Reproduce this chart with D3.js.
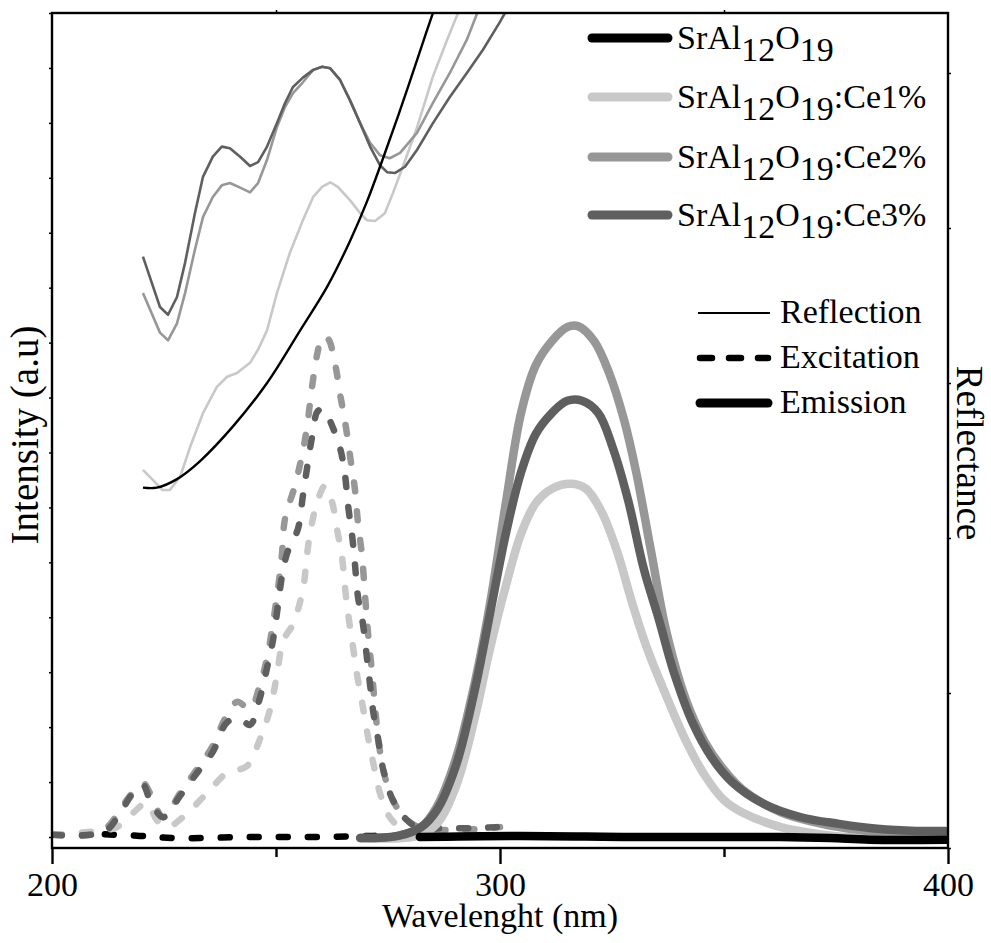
<!DOCTYPE html>
<html>
<head>
<meta charset="utf-8">
<script src="https://cdn.jsdelivr.net/npm/d3@7"></script>
<style>
  html, body { margin: 0; padding: 0; background: #fff; }
  svg { display: block; }
  text { font-family: "Liberation Serif", "Times New Roman", serif; fill: #000; }
</style>
</head>
<body>
<svg id="chart" width="991" height="943"></svg>
<script>
// ---- sample names and colours ----
const samples = ["SrAl12O19", "SrAl12O19:Ce1%", "SrAl12O19:Ce2%", "SrAl12O19:Ce3%"];
const sampleColors = ["#000000", "#c8c8c8", "#979797", "#5f5f5f"];

// ---- axis ticks ----
const wavelengthMajorTicks = [200, 300, 400];
const wavelengthMinorTicks = [250, 350];
const intensityTicks = d3.range(0, 16);
const reflectanceTicks = [0, 20, 40, 60, 80, 100];

// ---- reflection spectra [wavelength nm, reflectance %] ----
const reflHost = [[220.3,46.5],[223.4,46.5],[227.9,47.6],[233.0,49.9],[240.4,54.4],[248.0,60.0],[255.4,66.8],[261.4,72.4],[266.5,78.3],[270.3,83.4],[273.9,89.0],[277.7,95.2],[281.5,101.7],[285.0,107.7],[288.8,113.9]];
const reflCe1 = [[220.3,48.8],[222.5,47.5],[224.6,46.2],[226.3,46.2],[228.6,47.9],[230.8,51.7],[233.7,56.1],[236.8,59.5],[239.1,60.8],[241.3,61.3],[244.2,62.6],[246.0,64.3],[248.0,66.8],[250.2,71.6],[253.1,76.8],[256.0,81.0],[258.3,84.0],[260.3,85.3],[262.1,85.9],[263.8,85.3],[266.5,83.6],[268.8,81.9],[270.3,81.0],[272.1,80.9],[274.3,81.9],[276.1,84.5],[278.3,87.9],[281.5,93.0],[285.0,99.5],[288.2,104.3],[290.6,107.7],[292.6,110.7]];
const reflCe2 = [[220.3,71.6],[224.1,66.5],[225.9,65.5],[227.9,67.7],[229.7,71.6],[231.9,77.2],[233.7,81.4],[235.9,84.0],[237.9,85.5],[239.7,85.8],[242.0,85.2],[244.2,84.6],[246.0,85.8],[248.0,88.8],[250.2,93.0],[252.0,95.6],[253.8,97.4],[256.0,98.8],[258.3,100.4],[260.3,100.8],[262.1,100.6],[264.3,99.1],[266.5,96.5],[268.8,93.5],[271.0,91.0],[273.2,89.4],[275.4,89.0],[277.7,89.7],[281.5,92.3],[285.0,96.1],[288.8,100.0],[292.6,104.3],[294.9,107.7],[297.3,110.7]];
const reflCe3 = [[220.3,76.3],[224.1,69.8],[225.9,68.8],[227.9,71.1],[229.7,75.5],[231.9,81.9],[233.7,86.6],[235.9,89.2],[237.9,90.5],[239.7,90.3],[242.0,89.2],[244.2,88.0],[246.0,88.5],[248.0,90.5],[250.2,93.5],[252.0,96.1],[253.8,98.2],[256.0,99.4],[258.3,100.4],[260.3,100.8],[262.1,100.6],[264.3,99.1],[266.5,96.5],[268.8,93.5],[271.0,90.5],[273.2,88.1],[274.8,87.2],[276.6,87.1],[278.8,87.9],[281.5,90.1],[285.0,93.5],[288.8,96.9],[292.6,100.0],[296.2,103.0],[300.0,106.6],[303.3,110.0]];

// ---- excitation spectra [wavelength nm, intensity a.u.] ----
const excHost = [[211.8,0.05],[219.6,0.02],[227.5,-0.02],[244.2,0.0],[260.0,0.0],[271.0,0.02],[282.0,0.02]];
const excCe1 = [[200.2,0.04],[212.3,0.13],[214.5,0.18],[218.1,0.44],[221.2,0.62],[223.4,0.31],[225.7,0.18],[229.2,0.36],[234.6,0.80],[239.1,1.17],[243.5,1.29],[246.4,1.78],[248.7,2.33],[250.2,2.95],[251.6,3.57],[253.8,3.88],[256.0,4.50],[256.9,5.12],[257.6,5.53],[259.2,6.10],[260.9,6.39],[262.5,6.10],[263.6,5.61],[264.7,5.12],[265.4,4.55],[266.1,4.06],[267.0,3.57],[268.1,2.95],[269.2,2.46],[270.5,1.84],[271.7,1.35],[273.2,0.80],[275.4,0.36],[277.7,0.18],[281.5,0.09]];
const excCe2 = [[200.2,0.04],[208.5,0.04],[212.3,0.18],[215.2,0.49],[217.4,0.75],[220.3,0.98],[221.9,0.80],[224.8,0.36],[228.6,0.80],[232.4,1.24],[235.9,1.66],[238.6,2.15],[241.3,2.46],[244.2,2.33],[246.4,2.77],[248.0,3.26],[249.3,3.88],[250.4,4.50],[251.3,5.12],[252.0,5.79],[254.2,6.39],[255.8,6.95],[256.9,7.45],[258.0,8.17],[259.2,8.79],[260.3,9.10],[261.6,9.07],[263.2,8.61],[264.3,8.06],[265.4,7.57],[266.5,6.95],[267.6,6.34],[268.3,5.72],[269.2,5.12],[269.9,4.37],[270.5,3.75],[271.4,3.02],[272.5,2.04],[273.9,1.24],[276.1,0.67],[279.2,0.31],[282.8,0.16],[290.4,0.13],[297.8,0.16],[300.0,0.18]];
const excCe3 = [[200.2,0.04],[208.5,0.04],[212.3,0.13],[215.2,0.44],[218.1,0.80],[220.3,0.95],[221.9,0.67],[224.8,0.36],[228.6,0.75],[232.4,1.17],[235.9,1.55],[239.1,2.09],[242.0,2.15],[244.2,2.04],[246.4,2.53],[248.0,3.08],[249.3,3.57],[250.4,4.19],[251.3,4.73],[252.5,5.17],[254.9,5.61],[256.0,6.21],[256.9,6.70],[258.0,7.26],[259.4,7.76],[260.9,7.77],[262.1,7.57],[264.3,7.08],[265.4,6.59],[266.1,6.03],[267.0,5.48],[267.6,4.99],[268.3,4.37],[269.4,3.88],[270.3,3.26],[271.0,2.77],[271.7,2.28],[272.8,1.78],[273.9,1.24],[276.1,0.67],[279.2,0.31],[282.8,0.13],[286.6,0.16],[294.0,0.16],[299.3,0.18]];

// ---- emission spectra [wavelength nm, intensity a.u.] ----
const emiHost = [[282.1,0.0],[304.5,0.02],[331.3,0.0],[362.5,0.0],[373.7,-0.02],[382.6,-0.05],[399.5,-0.05]];
const emiCe1 = [[268.8,-0.02],[281.5,0.02],[285.9,0.24],[290.2,0.93],[294.4,2.18],[297.8,3.44],[301.3,4.57],[304.7,5.52],[308.0,6.08],[311.6,6.34],[315.9,6.43],[319.2,6.34],[322.5,5.95],[326.1,5.21],[329.5,4.26],[332.8,3.44],[337.1,2.57],[341.5,1.75],[345.8,1.11],[350.0,0.67],[354.2,0.44],[362.7,0.18],[371.4,0.05],[379.9,-0.02],[399.5,-0.04]];
const emiCe2 = [[268.8,-0.02],[277.2,0.02],[282.4,0.18],[285.9,0.55],[290.2,1.44],[294.4,2.82],[297.8,4.26],[301.3,6.08],[304.7,7.72],[308.0,8.59],[311.6,9.03],[315.0,9.28],[317.4,9.30],[321.0,9.03],[324.3,8.46],[327.7,7.59],[330.4,6.64],[333.7,5.21],[337.1,3.75],[341.5,2.50],[345.8,1.72],[350.0,1.22],[354.2,0.86],[362.7,0.45],[371.4,0.25],[379.9,0.13],[388.4,0.07],[399.5,0.04]];
const emiCe3 = [[268.8,-0.02],[277.2,0.02],[282.4,0.18],[285.9,0.49],[290.2,1.31],[294.4,2.69],[297.8,4.08],[301.3,5.52],[304.7,6.64],[308.0,7.34],[311.6,7.72],[315.0,7.94],[318.3,7.94],[321.9,7.72],[325.2,7.08],[328.6,6.13],[332.1,4.88],[335.5,3.95],[338.8,3.00],[343.1,2.06],[347.3,1.44],[351.8,1.00],[358.5,0.62],[367.2,0.36],[375.7,0.24],[384.2,0.15],[392.9,0.11],[399.5,0.11]];

const reflection = [reflCe1, reflCe2, reflCe3, reflHost];
const excitation = [excHost, excCe1, excCe2, excCe3];
const emission = [emiCe1, emiCe2, emiCe3, emiHost];

// ---- layout ----
const svg = d3.select("#chart");
const plot = { left: 52, right: 948, top: 13, bottom: 848 };

const x = d3.scaleLinear().domain([200, 400]).range([plot.left, plot.right]);
const yI = d3.scaleLinear().domain([-0.2, 15]).range([plot.bottom, plot.top]);
const yR = d3.scaleLinear().domain([0, 107.74]).range([plot.bottom, plot.top]);

svg.append("defs").append("clipPath").attr("id", "plot-clip")
  .append("rect")
  .attr("x", plot.left).attr("y", plot.top)
  .attr("width", plot.right - plot.left).attr("height", plot.bottom - plot.top);

const layer = svg.append("g").attr("clip-path", "url(#plot-clip)");

const reflLine = d3.line().x(d => x(d[0])).y(d => yR(d[1]));
const reflSmooth = d3.line().x(d => x(d[0])).y(d => yR(d[1])).curve(d3.curveCatmullRom);
const intLine = d3.line().x(d => x(d[0])).y(d => yI(d[1])).curve(d3.curveCatmullRom.alpha(0.5));

// reflection: thin solid lines (host curve drawn last, in black)
const reflColor = [sampleColors[1], sampleColors[2], sampleColors[3], sampleColors[0]];
reflection.forEach((s, i) => {
  layer.append("path").datum(s)
    .attr("d", i === 3 ? reflSmooth : reflLine)
    .attr("fill", "none")
    .attr("stroke", reflColor[i])
    .attr("stroke-width", i === 3 ? 2.4 : 2.6)
    .attr("stroke-linejoin", "round");
});

// excitation: dashed lines
excitation.forEach((s, i) => {
  layer.append("path").datum(s)
    .attr("d", intLine)
    .attr("fill", "none")
    .attr("stroke", sampleColors[i])
    .attr("stroke-width", 6.5)
    .attr("stroke-linecap", "round")
    .attr("stroke-dasharray", "9 20");
});

// emission: heavy solid lines
const emiColor = [sampleColors[1], sampleColors[2], sampleColors[3], sampleColors[0]];
emission.forEach((s, i) => {
  layer.append("path").datum(s)
    .attr("d", intLine)
    .attr("fill", "none")
    .attr("stroke", emiColor[i])
    .attr("stroke-width", 8.5)
    .attr("stroke-linecap", "round")
    .attr("stroke-linejoin", "round");
});

// ---- axes ----
const font = 34;

// bottom: labelled majors and unlabelled minors
const bottomMajor = svg.append("g").attr("transform", `translate(0,${plot.bottom})`)
  .call(d3.axisBottom(x).tickValues(wavelengthMajorTicks).tickSize(16).tickPadding(8).tickFormat(d3.format("d")));
bottomMajor.select(".domain").remove();
bottomMajor.selectAll("line").attr("stroke", "#000").attr("stroke-width", 2.4);
bottomMajor.selectAll("text").attr("font-size", font).attr("font-family", "Liberation Serif, serif");

const bottomMinor = svg.append("g").attr("transform", `translate(0,${plot.bottom})`)
  .call(d3.axisBottom(x).tickValues(wavelengthMinorTicks).tickSize(9).tickFormat(""));
bottomMinor.select(".domain").remove();
bottomMinor.selectAll("line").attr("stroke", "#000").attr("stroke-width", 2.4);

const topMinor = svg.append("g").attr("transform", `translate(0,${plot.top})`)
  .call(d3.axisTop(x).tickValues(wavelengthMinorTicks).tickSize(3).tickFormat(""));
topMinor.select(".domain").remove();
topMinor.selectAll("line").attr("stroke", "#000").attr("stroke-width", 1.5);

const leftAxis = svg.append("g").attr("transform", `translate(${plot.left},0)`)
  .call(d3.axisLeft(yI).tickValues(intensityTicks).tickSize(3).tickFormat(""));
leftAxis.select(".domain").remove();
leftAxis.selectAll("line").attr("stroke", "#000").attr("stroke-width", 1.5);

const rightAxis = svg.append("g").attr("transform", `translate(${plot.right},0)`)
  .call(d3.axisRight(yR).tickValues(reflectanceTicks).tickSize(3).tickFormat(""));
rightAxis.select(".domain").remove();
rightAxis.selectAll("line").attr("stroke", "#000").attr("stroke-width", 1.5);

// frame
svg.append("rect")
  .attr("x", plot.left).attr("y", plot.top)
  .attr("width", plot.right - plot.left).attr("height", plot.bottom - plot.top)
  .attr("fill", "none").attr("stroke", "#000").attr("stroke-width", 2.4);

// axis titles
svg.append("text")
  .attr("x", (plot.left + plot.right) / 2).attr("y", 927)
  .attr("text-anchor", "middle").attr("font-size", font)
  .text("Wavelenght (nm)");

svg.append("text")
  .attr("transform", "translate(38,435) rotate(-90)")
  .attr("text-anchor", "middle").attr("font-size", 39)
  .text("Intensity (a.u)");

svg.append("text")
  .attr("transform", "translate(957,453) rotate(90)")
  .attr("text-anchor", "middle").attr("font-size", 37)
  .text("Reflectance");

// ---- legend: samples ----
const legend = svg.append("g");
const rowY = [38, 97, 157, 215];
const suffix = ["", ":Ce1%", ":Ce2%", ":Ce3%"];
samples.forEach((name, i) => {
  legend.append("line")
    .attr("x1", 592).attr("x2", 668)
    .attr("y1", rowY[i]).attr("y2", rowY[i])
    .attr("stroke", sampleColors[i]).attr("stroke-width", 9)
    .attr("stroke-linecap", "round");
  const t = legend.append("text")
    .attr("x", 677).attr("y", rowY[i] + 11)
    .attr("font-size", font);
  t.append("tspan").text("SrAl");
  t.append("tspan").attr("dy", 12).text("12");
  t.append("tspan").attr("dy", -12).text("O");
  t.append("tspan").attr("dy", 12).text("19");
  if (suffix[i]) t.append("tspan").attr("dy", -12).text(suffix[i]);
});

// ---- legend: spectrum types ----
const types = [
  { label: "Reflection", y: 313, width: 2.2, dash: null, x1: 698, x2: 770 },
  { label: "Excitation", y: 358, width: 6.5, dash: "12 17", x1: 700, x2: 768 },
  { label: "Emission", y: 403, width: 9, dash: null, x1: 700, x2: 768 }
];
types.forEach(t => {
  const l = legend.append("line")
    .attr("x1", t.x1).attr("x2", t.x2)
    .attr("y1", t.y).attr("y2", t.y)
    .attr("stroke", "#000").attr("stroke-width", t.width)
    .attr("stroke-linecap", t.width > 5 ? "round" : "butt");
  if (t.dash) l.attr("stroke-dasharray", t.dash);
  legend.append("text")
    .attr("x", 780).attr("y", t.y + 10)
    .attr("font-size", font)
    .text(t.label);
});
</script>
</body>
</html>
